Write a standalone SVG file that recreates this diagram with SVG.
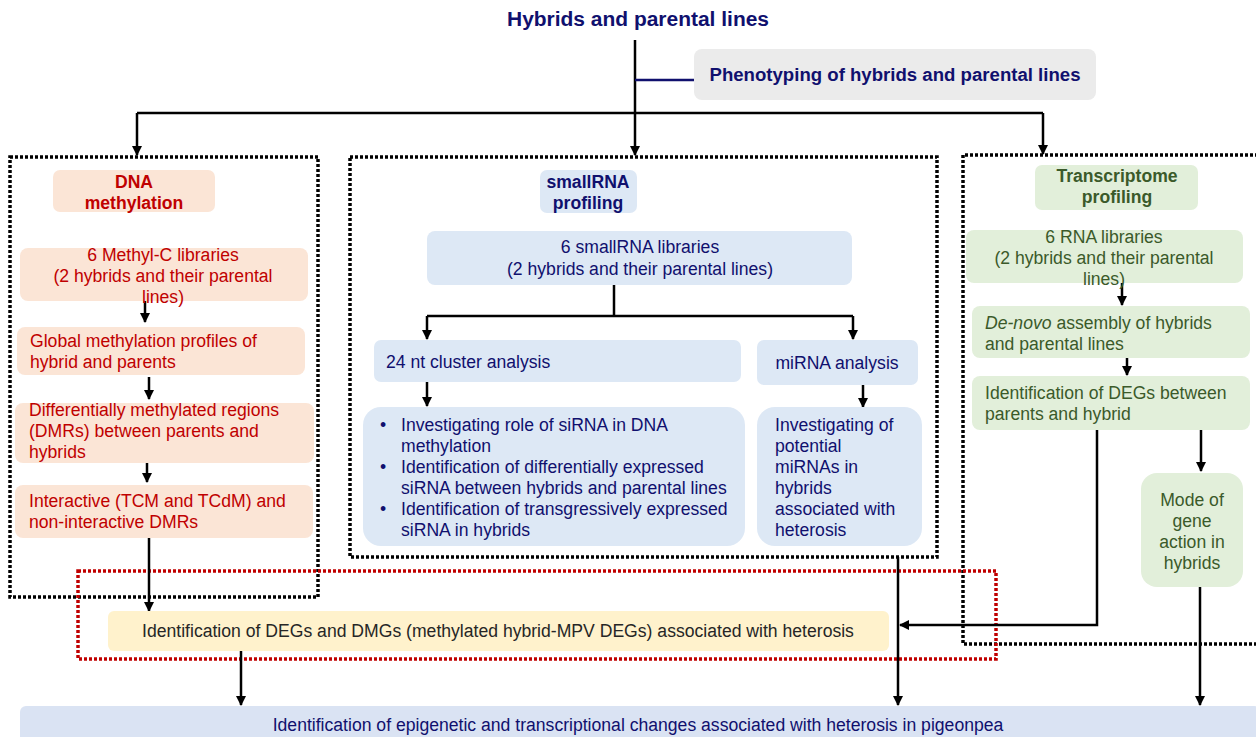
<svg xmlns="http://www.w3.org/2000/svg" width="1256" height="737" viewBox="0 0 1256 737">
<defs>
<marker id="ah" viewBox="0 0 10 10" refX="9" refY="5" markerWidth="4" markerHeight="4" orient="auto" markerUnits="strokeWidth"><path d="M0,0 L10,5 L0,10 z" fill="#000"/></marker>
<style>
text{font-family:"Liberation Sans",Arial,sans-serif;font-size:17.6px}
.nv{fill:#10106e}.rd{fill:#c00000}.gr{fill:#3b5a2a}.dk{fill:#262626}
.b{font-weight:bold}
.pe{fill:#fbe5d6}.bl{fill:#dde8f5}.gn{fill:#e2efda}.ye{fill:#fff2cc}.gy{fill:#ebebeb}.bb{fill:#dae3f3}
.dot{fill:none;stroke:#000;stroke-width:3.5;stroke-dasharray:3 2}
.rdot{fill:none;stroke:#c00000;stroke-width:3.5;stroke-dasharray:3 2}
.ln{fill:none;stroke:#000;stroke-width:2.5}
.ar{fill:none;stroke:#000;stroke-width:2.5;marker-end:url(#ah)}
</style>
</defs>
<g id="frames">
<rect class="dot" x="10" y="157" width="308" height="440"/>
<rect class="dot" x="350" y="157" width="587" height="400"/>
<path class="dot" d="M1258,155 H963 V644 H1258"/>
<rect class="rdot" x="78" y="571" width="918" height="88"/>
</g>
<g id="connectors">
<path class="ln" d="M635,40 V113"/>
<path d="M635,80 H694" fill="none" stroke="#10106e" stroke-width="2.5"/>
<path class="ln" d="M137,113 H1043"/>
<path class="ar" d="M137,113 V155"/>
<path class="ar" d="M635,113 V155"/>
<path class="ar" d="M1043,113 V154"/>
<path class="ar" d="M145,301 V322"/>
<path class="ar" d="M149,377 V399"/>
<path class="ar" d="M147,458 V482"/>
<path class="ar" d="M149,538 V611"/>
<path class="ar" d="M241,651 V705"/>
<path class="ln" d="M614,285 V316"/>
<path class="ln" d="M427,316 H853"/>
<path class="ar" d="M427,316 V339"/>
<path class="ar" d="M853,316 V339"/>
<path class="ar" d="M427,382 V406"/>
<path class="ar" d="M863,385 V407"/>
<path class="ar" d="M898,557 V705"/>
<path class="ar" d="M1122,283 V305"/>
<path class="ar" d="M1127,358 V375"/>
<path class="ar" d="M1097,430 V625 H900"/>
<path class="ar" d="M1201,430 V471"/>
<path class="ar" d="M1200,587 V705"/>
</g>
<g id="title"><text class="nv b" x="638" y="26" text-anchor="middle" style="font-size:20px" textLength="262" lengthAdjust="spacingAndGlyphs">Hybrids and parental lines</text></g>
<g id="phenotyping"><rect class="gy" x="694" y="49" width="402" height="51" rx="8"/><text class="nv b" x="895" y="81" text-anchor="middle" style="font-size:18px" textLength="371" lengthAdjust="spacingAndGlyphs">Phenotyping of hybrids and parental lines</text></g>
<g id="dna"><rect class="pe" x="53" y="170" width="162" height="42" rx="7"/><text class="rd b" x="134" y="188" text-anchor="middle">DNA</text><text class="rd b" x="134" y="209" text-anchor="middle">methylation</text></g>
<g id="methylc"><rect class="pe" x="20" y="248" width="288" height="53" rx="8"/><text class="rd" text-anchor="middle"><tspan x="163" y="261">6 Methyl-C libraries</tspan><tspan x="163" y="282">(2 hybrids and their parental</tspan><tspan x="163" y="303">lines)</tspan></text></g>
<g id="global"><rect class="pe" x="17" y="327" width="288" height="48" rx="8"/><text class="rd"><tspan x="30" y="347">Global methylation profiles of</tspan><tspan x="30" y="368">hybrid and parents</tspan></text></g>
<g id="dmr"><rect class="pe" x="15" y="403" width="299" height="60" rx="8"/><text class="rd"><tspan x="29" y="416">Differentially methylated regions</tspan><tspan x="29" y="437">(DMRs) between parents and</tspan><tspan x="29" y="458">hybrids</tspan></text></g>
<g id="interactive"><rect class="pe" x="15" y="485" width="298" height="53" rx="8"/><text class="rd"><tspan x="29" y="507">Interactive (TCM and TCdM) and</tspan><tspan x="29" y="528">non-interactive DMRs</tspan></text></g>
<g id="smallrna"><rect class="bl" x="540" y="170" width="97" height="43" rx="7"/><text class="nv b" text-anchor="middle"><tspan x="588" y="188">smallRNA</tspan><tspan x="588" y="209">profiling</tspan></text></g>
<g id="srnalib"><rect class="bl" x="427" y="231" width="425" height="54" rx="8"/><text class="nv" text-anchor="middle"><tspan x="640" y="253">6 smallRNA libraries</tspan><tspan x="640" y="275">(2 hybrids and their parental lines)</tspan></text></g>
<g id="nt24"><rect class="bl" x="374" y="340" width="367" height="42" rx="7"/><text class="nv" x="386" y="368">24 nt cluster analysis</text></g>
<g id="mirna"><rect class="bl" x="757" y="340" width="161" height="45" rx="7"/><text class="nv" x="837" y="369" text-anchor="middle">miRNA analysis</text></g>
<g id="sirna"><rect class="bl" x="363" y="407" width="382" height="139" rx="18"/><text class="nv"><tspan x="380" y="431">•</tspan><tspan x="401" y="431">Investigating role of siRNA in DNA</tspan><tspan x="401" y="452">methylation</tspan><tspan x="380" y="473">•</tspan><tspan x="401" y="473">Identification of differentially expressed</tspan><tspan x="401" y="494">siRNA between hybrids and parental lines</tspan><tspan x="380" y="515">•</tspan><tspan x="401" y="515">Identification of transgressively expressed</tspan><tspan x="401" y="536">siRNA in hybrids</tspan></text></g>
<g id="mirnainv"><rect class="bl" x="757" y="407" width="165" height="139" rx="18"/><text class="nv"><tspan x="775" y="431">Investigating of</tspan><tspan x="775" y="452">potential</tspan><tspan x="775" y="473">miRNAs in</tspan><tspan x="775" y="494">hybrids</tspan><tspan x="775" y="515">associated with</tspan><tspan x="775" y="536">heterosis</tspan></text></g>
<g id="transcriptome"><rect class="gn" x="1035" y="165" width="163" height="45" rx="7"/><text class="gr b" text-anchor="middle"><tspan x="1117" y="182">Transcriptome</tspan><tspan x="1117" y="203">profiling</tspan></text></g>
<g id="rnalib"><rect class="gn" x="966" y="230" width="277" height="53" rx="8"/><text class="gr" text-anchor="middle"><tspan x="1104" y="243">6 RNA libraries</tspan><tspan x="1104" y="264">(2 hybrids and their parental</tspan><tspan x="1104" y="285">lines)</tspan></text></g>
<g id="denovo"><rect class="gn" x="972" y="306" width="278" height="52" rx="8"/><text class="gr"><tspan x="985" y="329" font-style="italic">De-novo</tspan><tspan> assembly of hybrids</tspan><tspan x="985" y="350">and parental lines</tspan></text></g>
<g id="degs"><rect class="gn" x="972" y="376" width="278" height="54" rx="8"/><text class="gr"><tspan x="985" y="399">Identification of DEGs between</tspan><tspan x="985" y="420">parents and hybrid</tspan></text></g>
<g id="mode"><rect class="gn" x="1141" y="473" width="102" height="114" rx="16"/><text class="gr" text-anchor="middle"><tspan x="1192" y="506">Mode of</tspan><tspan x="1192" y="527">gene</tspan><tspan x="1192" y="548">action in</tspan><tspan x="1192" y="569">hybrids</tspan></text></g>
<g id="dmg"><rect class="ye" x="108" y="611" width="781" height="40" rx="6"/><text class="dk" x="498" y="637" text-anchor="middle">Identification of DEGs and DMGs (methylated hybrid-MPV DEGs) associated with heterosis</text></g>
<g id="final"><rect class="bb" x="20" y="706" width="1240" height="40" rx="6"/><text class="nv" x="638" y="731" text-anchor="middle">Identification of epigenetic and transcriptional changes associated with heterosis in pigeonpea</text></g>
</svg>
